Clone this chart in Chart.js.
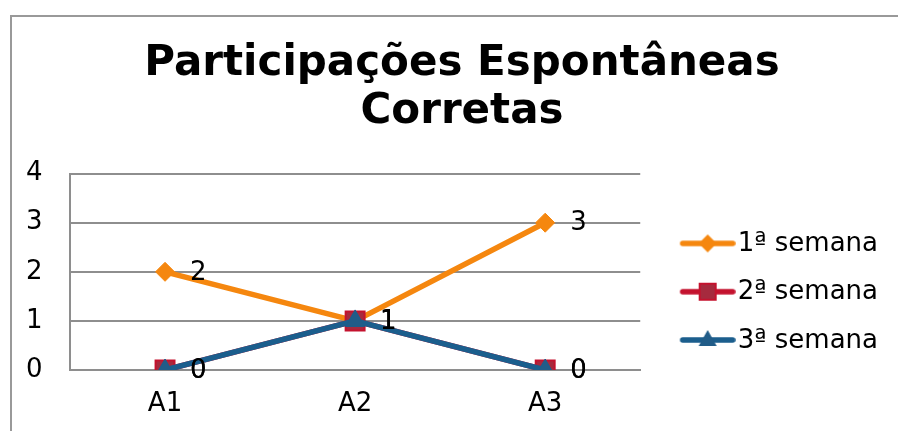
<!DOCTYPE html>
<html>
<head>
<meta charset="utf-8">
<script src="https://cdn.jsdelivr.net/npm/chart.js@4/dist/chart.umd.min.js"></script>
<style>
  html, body { margin: 0; padding: 0; background: #fff; overflow: hidden; }
  #frame { position: absolute; left: 10px; top: 15px; width: 1000px; height: 1000px; border: 2px solid #999; box-sizing: border-box; }
  #chart { position: absolute; left: 0; top: 0; }
</style>
</head>
<body>
<div id="frame"></div>
<canvas id="chart" width="898" height="431"></canvas>
<script>
// data
const categories = ['A1', 'A2', 'A3'];
const seriesNames = ['1ª semana', '2ª semana', '3ª semana'];
const week1 = [2, 1, 3];
const week2 = [0, 1, 0];
const week3 = [0, 1, 0];
const yTicks = [0, 1, 2, 3, 4];

const orange = '#f5870f';
const red = '#c4122e';
const redFill = '#a62a3e';
const blue = '#1b5e8d';
const blueFill = '#215c88';
const gridColor = '#8e8e8e';

Chart.defaults.font.family = '"DejaVu Sans", Verdana, sans-serif';

// legend sample: a short line with the marker in the middle
function legendSample(lineColor, fillColor, edgeColor, shape) {
  const c = document.createElement('canvas');
  c.width = 84;
  c.height = 30;
  const g = c.getContext('2d');
  g.strokeStyle = lineColor;
  g.lineWidth = 5.5;
  g.lineCap = 'round';
  g.beginPath();
  g.moveTo(31, 14);
  g.lineTo(81, 14);
  g.stroke();
  const cx = 56, cy = 14;
  g.fillStyle = fillColor;
  g.strokeStyle = edgeColor;
  g.lineWidth = 2;
  g.beginPath();
  if (shape === 'diamond') {
    g.moveTo(cx, cy - 9); g.lineTo(cx + 9, cy); g.lineTo(cx, cy + 9); g.lineTo(cx - 9, cy);
    g.closePath(); g.fill();
  } else if (shape === 'square') {
    g.rect(cx - 8, cy - 8, 16, 16);
    g.fill(); g.stroke();
  } else {
    g.moveTo(cx, cy - 10); g.lineTo(cx + 9, cy + 6); g.lineTo(cx - 9, cy + 6);
    g.closePath(); g.fill();
  }
  return c;
}

const samples = [
  legendSample(orange, orange, orange, 'diamond'),
  legendSample(red, redFill, red, 'square'),
  legendSample(blue, blueFill, blue, 'triangle')
];

const valueLabels = {
  id: 'valueLabels',
  afterDatasetsDraw(chart) {
    const ctx = chart.ctx;
    ctx.save();
    ctx.font = '26px "DejaVu Sans", Verdana, sans-serif';
    ctx.fillStyle = '#000';
    ctx.textAlign = 'left';
    ctx.textBaseline = 'middle';
    chart.data.datasets.forEach((ds, i) => {
      chart.getDatasetMeta(i).data.forEach((pt, j) => {
        ctx.fillText(String(ds.data[j]), pt.x + 25, pt.y + 1);
      });
    });
    ctx.restore();
  }
};

new Chart(document.getElementById('chart'), {
  type: 'line',
  data: {
    labels: categories,
    datasets: [
      {
        label: seriesNames[0], data: week1, order: 2,
        borderColor: orange, backgroundColor: orange, borderWidth: 5.5,
        pointStyle: 'rectRot', pointRadius: 9.5, pointBackgroundColor: orange,
        pointBorderColor: orange, pointBorderWidth: 1
      },
      {
        label: seriesNames[1], data: week2, order: 1,
        borderColor: red, backgroundColor: redFill, borderWidth: 5.5,
        pointStyle: 'rect', pointRadius: 13.4, pointBackgroundColor: redFill,
        pointBorderColor: red, pointBorderWidth: 2
      },
      {
        label: seriesNames[2], data: week3, order: 0,
        borderColor: blue, backgroundColor: blueFill, borderWidth: 5.5,
        pointStyle: 'triangle', pointRadius: 11, pointBackgroundColor: blueFill,
        pointBorderColor: blue, pointBorderWidth: 1
      }
    ]
  },
  options: {
    responsive: false,
    animation: false,
    devicePixelRatio: 1,
    layout: { padding: { left: 36, right: 10, top: 0, bottom: 0 } },
    plugins: {
      title: {
        display: true,
        text: ['Participações Espontâneas', 'Corretas'],
        color: '#000',
        font: { size: 42, weight: 'bold', lineHeight: 1.15 },
        padding: { top: 40, bottom: 37 }
      },
      legend: {
        position: 'right',
        maxWidth: 260,
        title: { display: true, text: '', font: { size: 12 }, padding: { top: 140, bottom: 0 } },
        labels: {
          color: '#000',
          font: { size: 26 },
          padding: 22.3,
          usePointStyle: true,
          pointStyleWidth: 62.2,
          generateLabels: chart => chart.data.datasets.map((ds, i) => ({
            text: ds.label,
            fontColor: '#000',
            fillStyle: ds.backgroundColor,
            strokeStyle: ds.borderColor,
            lineWidth: 0,
            pointStyle: samples[i],
            hidden: false,
            datasetIndex: i
          }))
        }
      },
      tooltip: { enabled: false }
    },
    scales: {
      x: {
        offset: true,
        grid: { display: false, drawTicks: false },
        border: { display: true, color: gridColor, width: 2 },
        ticks: { color: '#000', font: { size: 26 }, padding: 19 },
        afterFit: s => { s.height = 61; }
      },
      y: {
        min: 0,
        max: 4,
        afterBuildTicks: s => { s.ticks = yTicks.map(v => ({ value: v })); },
        grid: { color: gridColor, lineWidth: 2, drawTicks: false },
        border: { display: true, color: gridColor, width: 2 },
        // mirrored with a negative padding so the labels sit left of the axis, unclipped
        ticks: { color: '#000', font: { size: 26 }, mirror: true, crossAlign: 'near', padding: -44 },
        afterFit: s => { s.width = 34; }
      }
    }
  },
  plugins: [valueLabels]
});
</script>
</body>
</html>
